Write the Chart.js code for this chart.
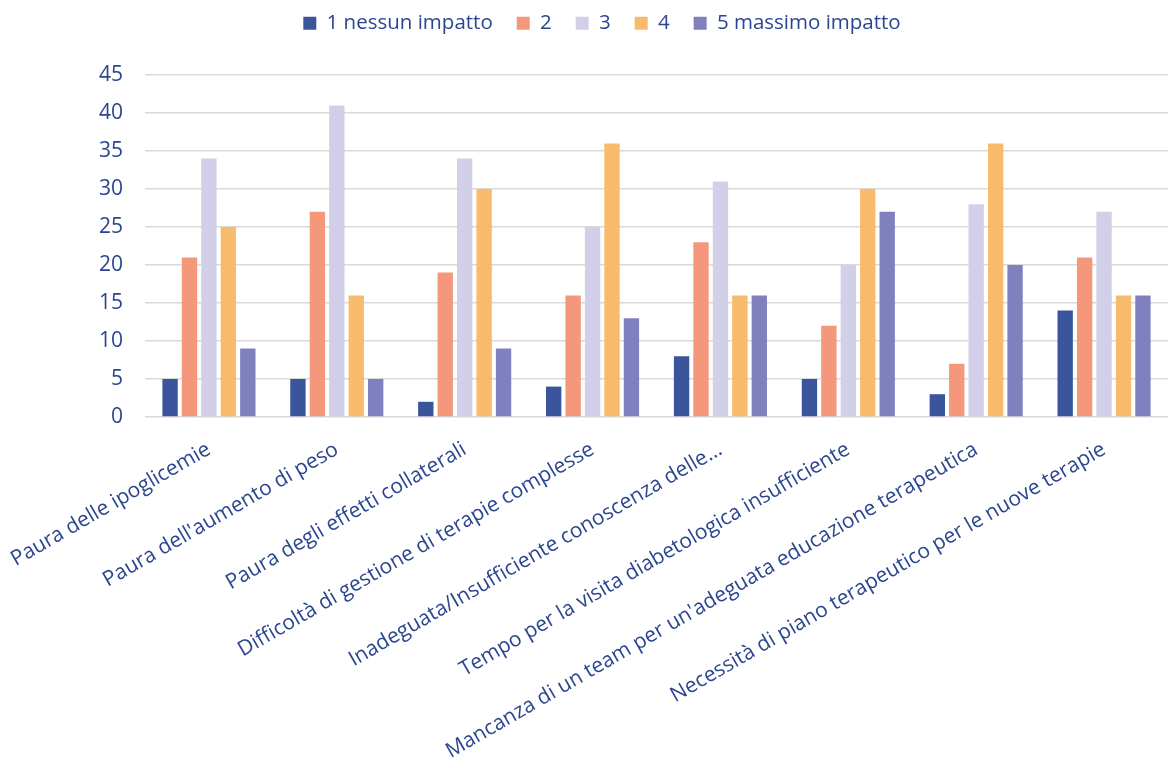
<!DOCTYPE html>
<html>
<head>
<meta charset="utf-8">
<script src="https://cdn.jsdelivr.net/npm/chart.js@4/dist/chart.umd.min.js"></script>
<style>
    html, body { margin: 0; padding: 0; background: #ffffff; }
    #wrap { width: 1168px; height: 758px; }
</style>
</head>
<body>
<div id="wrap"><canvas id="impactChart" width="1168" height="758"></canvas></div>
<script>
// Categories (x axis)
var categories = [
    'Paura delle ipoglicemie',
    "Paura dell'aumento di peso",
    'Paura degli effetti collaterali',
    'Difficoltà di gestione di terapie complesse',
    'Inadeguata/Insufficiente conoscenza delle…',
    'Tempo per la visita diabetologica insufficiente',
    "Mancanza di un team per un'adeguata educazione terapeutica",
    'Necessità di piano terapeutico per le nuove terapie'
];

var seriesNames = ['1 nessun impatto', '2', '3', '4', '5 massimo impatto'];

// values per impact level, one per category
var impact1 = [5, 5, 2, 4, 8, 5, 3, 14];
var impact2 = [21, 27, 19, 16, 23, 12, 7, 21];
var impact3 = [34, 41, 34, 25, 31, 20, 28, 27];
var impact4 = [25, 16, 30, 36, 16, 30, 36, 16];
var impact5 = [9, 5, 9, 13, 16, 27, 20, 16];

var yTicks = [0, 5, 10, 15, 20, 25, 30, 35, 40, 45];

var colors = ['#3A559B', '#F4977A', '#D1D0E8', '#F8BB6C', '#8180BE'];
var textColor = '#2B4690';
var fontFamily = '"Open Sans", "Noto Sans", sans-serif';

// legend: taller box (plot starts lower) and nudged a little to the right
var legendSpacing = {
    id: 'legendSpacing',
    beforeInit: function (chart) {
        var origFit = chart.legend.fit;
        chart.legend.fit = function () {
            origFit.call(this);
            this.height = 86;
        };
    },
    afterLayout: function (chart) {
        chart.legend.left += 18;
        chart.legend.right += 18;
    }
};

var allSeries = [impact1, impact2, impact3, impact4, impact5];

new Chart(document.getElementById('impactChart'), {
    type: 'bar',
    data: {
        labels: categories,
        datasets: allSeries.map(function (values, i) {
            return {
                label: seriesNames[i],
                data: values,
                backgroundColor: colors[i],
                borderWidth: 0,
                categoryPercentage: 0.76,
                barPercentage: 0.79
            };
        })
    },
    options: {
        responsive: false,
        animation: false,
        layout: {
            padding: { top: -11, left: 0, right: 0, bottom: 0 }
        },
        plugins: {
            legend: {
                position: 'top',
                labels: {
                    boxWidth: 13,
                    boxHeight: 13,
                    padding: 24,
                    color: textColor,
                    font: { size: 20.5, family: fontFamily }
                }
            },
            tooltip: { enabled: false }
        },
        scales: {
            y: {
                min: 0,
                max: 45,
                afterBuildTicks: function (scale) {
                    scale.ticks = yTicks.map(function (v) { return { value: v }; });
                },
                afterFit: function (scale) {
                    scale.width = 145;
                },
                grid: {
                    color: '#D9D9D9',
                    lineWidth: 1.5,
                    drawTicks: false
                },
                border: { display: false },
                ticks: {
                    padding: 22,
                    color: textColor,
                    font: { size: 21, family: fontFamily }
                }
            },
            x: {
                afterFit: function (scale) {
                    scale.height = 341;
                    scale.paddingLeft = 0;
                    scale.paddingRight = 0;
                },
                grid: { display: false },
                border: { display: false },
                ticks: {
                    autoSkip: false,
                    minRotation: 30,
                    maxRotation: 30,
                    padding: 12,
                    color: textColor,
                    font: { size: 21, family: fontFamily }
                }
            }
        }
    },
    plugins: [legendSpacing]
});
</script>
</body>
</html>
